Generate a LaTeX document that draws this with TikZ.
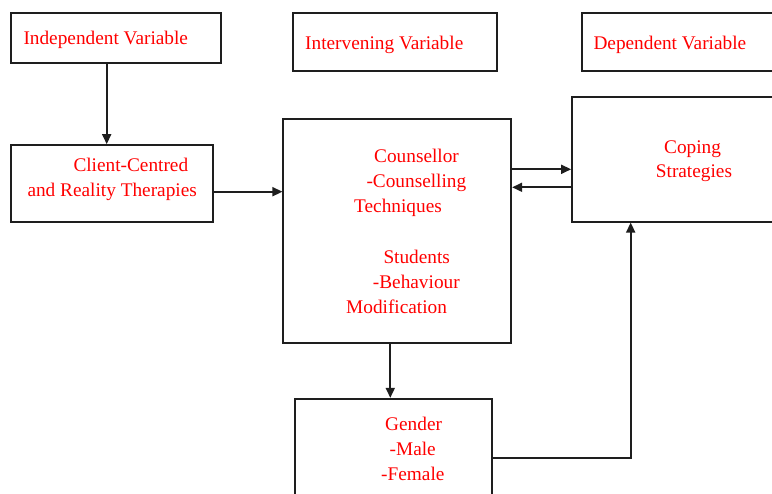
\documentclass[tikz,border=0pt]{standalone}
\usepackage{fontspec}
\setmainfont{Liberation Serif}
\newfontfamily\tnrfont{Liberation Serif}
\usetikzlibrary{arrows.meta}
\definecolor{txtred}{RGB}{255,0,0}
\definecolor{boxline}{RGB}{30,30,30}
\tikzset{
  box/.style={draw=boxline, line width=1.7pt, rectangle, inner sep=0pt, fill=none},
  lbl/.style={anchor=base west, inner sep=0pt, text=txtred, font=\tnrfont\fontsize{19.3}{25}\selectfont},
  arr/.style={draw=boxline, line width=1.7pt, -{Triangle[length=10pt,width=9pt]}},
  conn/.style={draw=boxline, line width=1.7pt}
}
\begin{document}
\begin{tikzpicture}[x=1pt,y=-1pt]
\useasboundingbox (0,0) rectangle (772,494);
\clip (0,0) rectangle (772,494);
% boxes
\node[box, minimum width=210pt, minimum height=49.4pt] (indep) at (116,38) {};
\node[box, minimum width=204.6pt, minimum height=58pt] (interv) at (395,42.3) {};
\node[box, minimum width=218.3pt, minimum height=58pt] (dep) at (690.85,42.3) {};
\node[box, minimum width=202.3pt, minimum height=76.7pt] (client) at (112.15,183.35) {};
\node[box, minimum width=228pt, minimum height=224pt] (couns) at (397.3,231.3) {};
\node[box, minimum width=228pt, minimum height=125pt] (coping) at (686,159.2) {};
\node[box, minimum width=197.6pt, minimum height=121.3pt] (gender) at (393.5,459.35) {};
% texts
\node[lbl] (tindep) at (23.3,44.5) {Independent Variable};
\node[lbl] (tinterv) at (305,49.3) {Intervening Variable};
\node[lbl] (tdep) at (593.3,49.3) {Dependent Variable};
\node[lbl] (tclient1) at (73.3,171.7) {Client-Centred};
\node[lbl] (tclient2) at (27.3,196.7) {and Reality Therapies};
\node[lbl] (tc1) at (374,162.7) {Counsellor};
\node[lbl] (tc2) at (366.3,187.7) {-Counselling};
\node[lbl] (tc3) at (354,212.2) {Techniques};
\node[lbl] (tc4) at (383.3,263.3) {Students};
\node[lbl] (tc5) at (372.7,288.3) {-Behaviour};
\node[lbl] (tc6) at (346,313.3) {Modification};
\node[lbl] (tcop1) at (664,153.3) {Coping};
\node[lbl] (tcop2) at (655.7,177.3) {Strategies};
\node[lbl] (tg1) at (385,431) {Gender};
\node[lbl] (tg2) at (389.5,456) {-Male};
\node[lbl] (tg3) at (381,480.7) {-Female};
% connector guide coordinates
\coordinate (xa) at (106.7,0);
\coordinate (ya) at (0,191.7);
\coordinate (yb) at (0,169.3);
\coordinate (yc) at (0,187.3);
\coordinate (xd) at (390.3,0);
\coordinate (ye) at (0,458.3);
\coordinate (xe) at (630.7,0);
% connectors
\draw[arr] (indep.south -| xa) -- (client.north -| xa);
\draw[arr] (client.east |- ya) -- (couns.west |- ya);
\draw[arr] (couns.east |- yb) -- (coping.west |- yb);
\draw[arr] (coping.west |- yc) -- (couns.east |- yc);
\draw[arr] (couns.south -| xd) -- (gender.north -| xd);
\draw[arr] (gender.east |- ye) -| (coping.south -| xe);
\end{tikzpicture}
\end{document}
